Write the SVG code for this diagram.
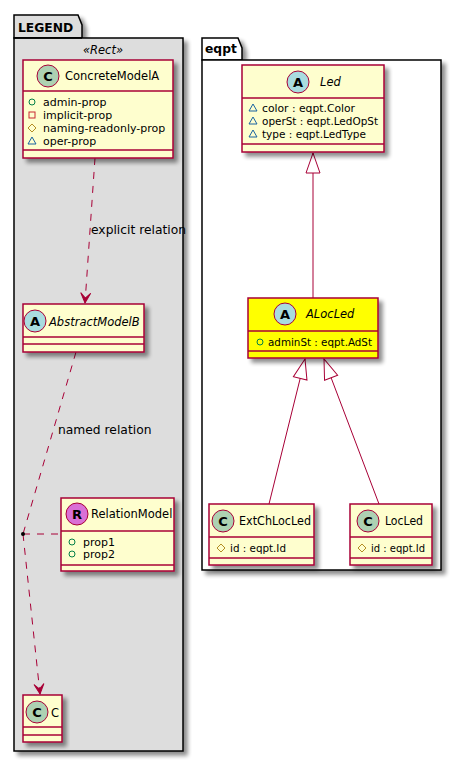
<svg xmlns="http://www.w3.org/2000/svg" width="461" height="762" viewBox="0 0 461 762">
<defs>
<filter id="sh" x="-10%" y="-10%" width="130%" height="130%">
<feGaussianBlur in="SourceAlpha" stdDeviation="2"/>
<feOffset dx="4" dy="4" result="o"/>
<feComponentTransfer><feFuncA type="linear" slope="0.45"/></feComponentTransfer>
<feMerge><feMergeNode/><feMergeNode in="SourceGraphic"/></feMerge>
</filter>
<marker id="dep" markerUnits="userSpaceOnUse" markerWidth="14" markerHeight="14" viewBox="-12 -7 14 14" refX="0" refY="0" orient="auto">
<path d="M0,0 L-10,-5 L-5,0 L-10,5 Z" fill="#A80036" stroke="#A80036" stroke-width="1"/>
</marker>
<marker id="gen" markerUnits="userSpaceOnUse" markerWidth="24" markerHeight="18" viewBox="-22 -9 24 18" refX="0" refY="0" orient="auto">
<path d="M0,0 L-20,-7 L-20,7 Z" fill="#FFFFFF" stroke="#A80036" stroke-width="1"/>
</marker>
</defs>
<style>
text{font-family:"DejaVu Sans","Liberation Sans",sans-serif;fill:#000}
.pkg{stroke:#000;stroke-width:1.5}
.pn{font-weight:bold;font-size:12.3px}
.box{fill:#FEFECE;stroke:#A80036;stroke-width:1.5}
.sep{stroke:#A80036;stroke-width:1.5}
.cn{font-size:11.5px}
.it{font-style:italic}
.at{font-size:11px}
.ci{stroke:#A80036;stroke-width:1}
.cl{font-size:13px;font-weight:bold;text-anchor:middle}
.pub{fill:none;stroke:#038048;stroke-width:1}
.pri{fill:none;stroke:#C82930;stroke-width:1}
.pro{fill:none;stroke:#B38D22;stroke-width:1}
.pkv{fill:none;stroke:#1963A0;stroke-width:1}
.lbl{font-size:12.3px}
.dash{fill:none;stroke:#A80036;stroke-width:1;stroke-dasharray:7,7}
.solid{fill:none;stroke:#A80036;stroke-width:1}
</style>

<g id="pkg-legend">
<g filter="url(#sh)">
<polygon class="pkg" points="14,38 14,15 78,15 82,25 82,38" fill="#DDDDDD"/>
<rect class="pkg" x="14" y="38" width="169" height="713" fill="#DDDDDD"/>
</g>
<line class="pkg" x1="14" y1="38" x2="82" y2="38"/>
<text class="pn" x="18" y="32">LEGEND</text>
<text class="cn it" x="103" y="54" text-anchor="middle">«Rect»</text>
</g>

<g id="pkg-eqpt">
<g filter="url(#sh)">
<polygon class="pkg" points="202,60 202,38 238,38 242,48 242,60" fill="#FFFFFF"/>
<rect class="pkg" x="202" y="60" width="239" height="510" fill="#FFFFFF"/>
</g>
<text class="pn" x="205" y="53">eqpt</text>
</g>

<g id="connectors">
<path class="dash" d="M95,158 L85,303" marker-end="url(#dep)"/>
<text class="lbl" x="91" y="234">explicit relation</text>
<path class="dash" d="M76,352 L23,534"/>
<text class="lbl" x="58" y="434">named relation</text>
<path class="dash" d="M23,534 L61,534"/>
<path class="dash" d="M23,534 L40,694" marker-end="url(#dep)"/>
<circle cx="23" cy="534" r="2" fill="#000"/>
<path class="solid" d="M313,298 L313,153" marker-end="url(#gen)"/>
<path class="solid" d="M269,504 L305,359" marker-end="url(#gen)"/>
<path class="solid" d="M379,504 L324,359" marker-end="url(#gen)"/>
</g>

<g id="ConcreteModelA">
<rect class="box" x="23" y="60" width="150" height="98" filter="url(#sh)"/>
<line class="sep" x1="23" y1="91" x2="173" y2="91"/>
<line class="sep" x1="23" y1="150" x2="173" y2="150"/>
<circle class="ci" cx="48" cy="76" r="11" fill="#ADD1B2"/>
<text class="cl" x="48" y="81">C</text>
<text class="cn" x="65" y="80">ConcreteModelA</text>
<circle class="pub" cx="32" cy="102" r="3"/>
<text class="at" x="43" y="106">admin-prop</text>
<rect class="pri" x="29" y="112" width="6" height="6"/>
<text class="at" x="43" y="119">implicit-prop</text>
<polygon class="pro" points="32,124 36,128 32,132 28,128"/>
<text class="at" x="43" y="132">naming-readonly-prop</text>
<polygon class="pkv" points="32,137 36,144 28,144"/>
<text class="at" x="43" y="145">oper-prop</text>
</g>

<g id="AbstractModelB">
<rect class="box" x="23" y="304" width="121" height="48" filter="url(#sh)"/>
<line class="sep" x1="23" y1="337" x2="144" y2="337"/>
<line class="sep" x1="23" y1="344" x2="144" y2="344"/>
<circle class="ci" cx="35" cy="321" r="11" fill="#A9DCDF"/>
<text class="cl" x="35" y="326">A</text>
<text class="cn it" x="49" y="326">AbstractModelB</text>
</g>

<g id="RelationModel">
<rect class="box" x="61" y="498" width="113" height="73" filter="url(#sh)"/>
<line class="sep" x1="61" y1="531" x2="174" y2="531"/>
<line class="sep" x1="61" y1="565" x2="174" y2="565"/>
<circle class="ci" cx="77" cy="514" r="11" fill="#DA70D6"/>
<text class="cl" x="77" y="519">R</text>
<text class="cn" x="91" y="518">RelationModel</text>
<circle class="pub" cx="72" cy="542" r="3"/>
<text class="at" x="83" y="546">prop1</text>
<circle class="pub" cx="72" cy="554" r="3"/>
<text class="at" x="83" y="558">prop2</text>
</g>

<g id="C">
<rect class="box" x="23" y="695" width="39" height="47" filter="url(#sh)"/>
<line class="sep" x1="23" y1="727" x2="62" y2="727"/>
<line class="sep" x1="23" y1="735" x2="62" y2="735"/>
<circle class="ci" cx="37" cy="712" r="11" fill="#ADD1B2"/>
<text class="cl" x="37" y="717">C</text>
<text class="cn" x="51" y="717">C</text>
</g>

<g id="Led">
<rect class="box" x="242" y="65" width="142" height="87" filter="url(#sh)"/>
<line class="sep" x1="242" y1="98" x2="384" y2="98"/>
<line class="sep" x1="242" y1="144" x2="384" y2="144"/>
<circle class="ci" cx="298" cy="82" r="11" fill="#A9DCDF"/>
<text class="cl" x="298" y="87">A</text>
<text class="cn it" x="320" y="86">Led</text>
<polygon class="pkv" points="253,104 257,111 249,111"/>
<text class="at" x="262" y="112" textLength="93" lengthAdjust="spacingAndGlyphs">color : eqpt.Color</text>
<polygon class="pkv" points="253,117 257,124 249,124"/>
<text class="at" x="262" y="125" textLength="116" lengthAdjust="spacingAndGlyphs">operSt : eqpt.LedOpSt</text>
<polygon class="pkv" points="253,130 257,137 249,137"/>
<text class="at" x="262" y="138" textLength="104" lengthAdjust="spacingAndGlyphs">type : eqpt.LedType</text>
</g>

<g id="ALocLed">
<rect x="248" y="298" width="130" height="60" fill="#FFFF00" stroke="#A80036" stroke-width="1.5" filter="url(#sh)"/>
<line class="sep" x1="248" y1="331" x2="378" y2="331"/>
<line class="sep" x1="248" y1="351" x2="378" y2="351"/>
<circle class="ci" cx="285" cy="314" r="11" fill="#A9DCDF"/>
<text class="cl" x="285" y="319">A</text>
<text class="cn it" x="306" y="318">ALocLed</text>
<circle class="pub" cx="260" cy="342" r="3"/>
<text class="at" x="268" y="346" textLength="104" lengthAdjust="spacingAndGlyphs">adminSt : eqpt.AdSt</text>
</g>

<g id="ExtChLocLed">
<rect class="box" x="209" y="504" width="105" height="61" filter="url(#sh)"/>
<line class="sep" x1="209" y1="537" x2="314" y2="537"/>
<line class="sep" x1="209" y1="558" x2="314" y2="558"/>
<circle class="ci" cx="223" cy="521" r="11" fill="#ADD1B2"/>
<text class="cl" x="223" y="526">C</text>
<text class="cn" x="239" y="525" textLength="72" lengthAdjust="spacingAndGlyphs">ExtChLocLed</text>
<polygon class="pro" points="221,544 225,548 221,552 217,548"/>
<text class="at" x="230" y="552" textLength="56" lengthAdjust="spacingAndGlyphs">id : eqpt.Id</text>
</g>

<g id="LocLed">
<rect class="box" x="350" y="504" width="82" height="61" filter="url(#sh)"/>
<line class="sep" x1="350" y1="537" x2="432" y2="537"/>
<line class="sep" x1="350" y1="558" x2="432" y2="558"/>
<circle class="ci" cx="368" cy="521" r="11" fill="#ADD1B2"/>
<text class="cl" x="368" y="526">C</text>
<text class="cn" x="385" y="525" textLength="38" lengthAdjust="spacingAndGlyphs">LocLed</text>
<polygon class="pro" points="362,544 366,548 362,552 358,548"/>
<text class="at" x="371" y="552" textLength="54" lengthAdjust="spacingAndGlyphs">id : eqpt.Id</text>
</g>
</svg>
